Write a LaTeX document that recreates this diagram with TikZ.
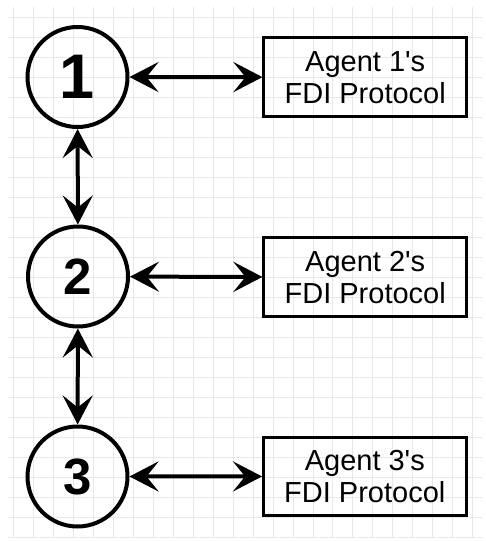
\documentclass[tikz,border=0pt]{standalone}
\usepackage{fontspec}
\setmainfont{Liberation Sans}
\usetikzlibrary{arrows.meta}

\tikzset{
  gridline/.style={draw=gray!18, line width=0.9pt},
  agent/.style={circle, draw=black, line width=4pt, minimum size=100pt, inner sep=0pt,
    font=\fontsize{51}{51}\selectfont\bfseries},
  protocol/.style={rectangle, draw=black, line width=3pt, minimum width=202.5pt,
    minimum height=78.5pt, inner sep=0pt, align=center,
    font=\fontsize{29}{32}\selectfont},
  link/.style={line width=4pt, {Stealth[length=29pt,width=30pt,inset=12pt]}-{Stealth[length=29pt,width=30pt,inset=12pt]}}
}

\begin{document}
\begin{tikzpicture}[x=1pt, y=-1pt]
  % canvas
  \fill[white] (0,0) rectangle (486,541);
  \useasboundingbox (0,0) rectangle (486,541);

  % background grid
  \foreach \i in {0,...,23} {
    \draw[gridline] (13.7+19.95*\i, 7) -- (13.7+19.95*\i, 537.5);
  }
  \foreach \j in {0,...,26} {
    \draw[gridline] (8, 17.3+20*\j) -- (482, 17.3+20*\j);
  }

  % agents
  \node[agent, font=\fontsize{63}{63}\selectfont\bfseries] (a1) at (77.5, 77) {1};
  \node[agent] (a2) at (78, 276.5) {2};
  \node[agent] (a3) at (77.5, 476.5) {3};

  % fault detection and isolation protocols
  \node[protocol] (p1) at (365.2, 77.2) {Agent 1\textquotesingle s\\FDI Protocol};
  \node[protocol] (p2) at (365.2, 277.2) {Agent 2\textquotesingle s\\FDI Protocol};
  \node[protocol] (p3) at (364.8, 476.4) {Agent 3\textquotesingle s\\FDI Protocol};

  % links
  \draw[link] (a1) -- (p1);
  \draw[link] (a2) -- (p2);
  \draw[link] (a3) -- (p3);
  \draw[link] (a1) -- (a2);
  \draw[link] (a2) -- (a3);
\end{tikzpicture}
\end{document}
